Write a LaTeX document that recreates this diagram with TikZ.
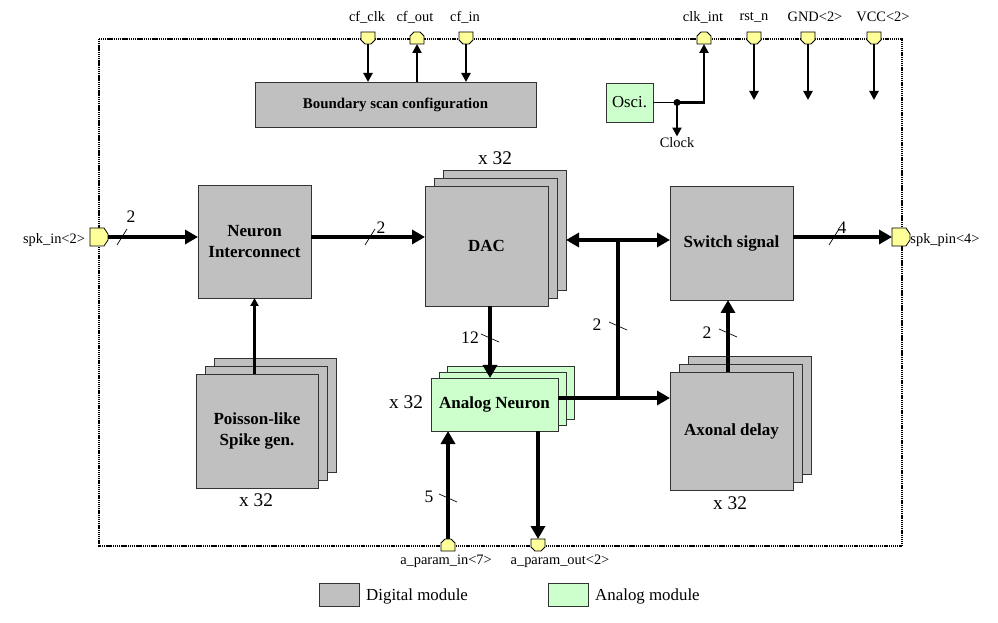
\documentclass[tikz,border=0pt]{standalone}
\usepackage{fontspec}
\setmainfont{Liberation Serif}
\usetikzlibrary{arrows.meta,calc}
\definecolor{dig}{HTML}{C0C0C0}
\definecolor{ana}{HTML}{CCFFCC}
\definecolor{pinc}{HTML}{FFFF99}
\newcommand\smallf{\fontsize{12.3}{14}\selectfont}
\newcommand\boxf{\bfseries\fontsize{14.5}{17.5}\selectfont}
\newcommand\bsf{\bfseries\fontsize{12.7}{15}\selectfont}
\newcommand\oscf{\fontsize{14.3}{17}\selectfont}
\newcommand\bigf{\fontsize{16.5}{19}\selectfont}
\newcommand\busf{\fontsize{15}{18}\selectfont}
\newcommand\legf{\fontsize{14.4}{17}\selectfont}
\newcommand\mybox[7]{\node[box,#6,minimum width={(#4-#2)*0.03cm},minimum height={(#5-#3)*0.03cm}] (#1) at ({(#2+#4)/2},{(#3+#5)/2}) {#7};}
\newcommand\stackbg[7]{%
  \draw[boxline,fill=#7] ({#1+2*#5},{#2+2*#6}) rectangle ({#3+2*#5},{#4+2*#6});
  \draw[boxline,fill=#7] ({#1+#5},{#2+#6}) rectangle ({#3+#5},{#4+#6});}
\newcommand\pinedges[3]{%
  \coordinate (#1) at (#2,#3);
  \coordinate (#1-t) at (#2,{#3-6});
  \coordinate (#1-b) at (#2,{#3+6});}
\newcommand\pinD[3]{\pinedges{#1}{#2}{#3}%
  \draw[pinst] ({#2-7},{#3-6}) -- ({#2+7},{#3-6}) -- ({#2+7},{#3+2}) -- ({#2+3},{#3+6}) -- ({#2-3},{#3+6}) -- ({#2-7},{#3+2}) -- cycle;}
\newcommand\pinU[3]{\pinedges{#1}{#2}{#3}%
  \draw[pinst] ({#2-7},{#3+6}) -- ({#2+7},{#3+6}) -- ({#2+7},{#3-2}) -- ({#2+3},{#3-6}) -- ({#2-3},{#3-6}) -- ({#2-7},{#3-2}) -- cycle;}
\newcommand\pinR[3]{%
  \coordinate (#1) at (#2,#3);
  \coordinate (#1-l) at ({#2-9},#3);
  \coordinate (#1-r) at ({#2+9},#3);
  \draw[pinst] ({#2-9},{#3-9}) -- ({#2+5},{#3-9}) -- ({#2+9},{#3-3}) -- ({#2+9},{#3+3}) -- ({#2+5},{#3+9}) -- ({#2-9},{#3+9}) -- cycle;}
\begin{document}
\begin{tikzpicture}[x=0.03cm,y=-0.03cm,
  boxline/.style={draw=black!80,line width=0.7pt},
  box/.style={boxline,inner sep=0pt,outer sep=0pt,align=center,font=\boxf},
  thk/.style={line width=4.2pt,-{Triangle[length=0.39cm,width=0.42cm]}},
  thkb/.style={line width=4.2pt,{Triangle[length=0.39cm,width=0.42cm]}-{Triangle[length=0.39cm,width=0.42cm]}},
  thn/.style={line width=2pt,-{Triangle[length=0.27cm,width=0.27cm]}},
  thn2/.style={line width=1.8pt,-{Triangle[length=0.24cm,width=0.24cm]}},
  slashl/.style={line width=0.6pt},
  pinst/.style={draw=black,line width=0.7pt,fill=pinc},
  frameline/.style={line width=1.2pt,dash pattern=on 1pt off 0.6pt},
  lbl/.style={font=\smallf,inner sep=1pt},
  bus/.style={font=\busf,inner sep=0pt},
  mult/.style={font=\bigf,inner sep=0pt}]
\useasboundingbox (0,0) rectangle (998,623);
\draw[frameline] (99,39) rectangle (902,546);

% modules
\mybox{BS}{255}{82}{536}{127}{fill=dig,font=\bsf}{Boundary scan configuration}
\mybox{OSC}{606}{83}{653}{122}{fill=ana,font=\oscf}{Osci.}
\mybox{NI}{198}{185}{311}{298}{fill=dig}{Neuron\\Interconnect}
\stackbg{425}{186}{548}{306}{9}{-8}{dig}
\mybox{DAC}{425}{186}{548}{306}{fill=dig}{DAC}
\mybox{SW}{670}{186}{793}{300}{fill=dig}{Switch signal}
\stackbg{196}{374}{318}{488}{9}{-8}{dig}
\mybox{PS}{196}{374}{318}{488}{fill=dig}{Poisson-like\\Spike gen.}
\stackbg{431}{378}{558}{431}{8}{-6}{ana}
\mybox{AN}{431}{378}{558}{431}{fill=ana}{Analog Neuron}
\stackbg{670}{372}{793}{490}{9}{-8}{dig}
\mybox{AX}{670}{372}{793}{490}{fill=dig}{Axonal delay}

% pins
\pinD{cfclk}{368}{38}
\pinU{cfout}{417}{38}
\pinD{cfin}{466}{38}
\pinU{clkint}{704}{38}
\pinD{rstn}{754}{38}
\pinD{gnd}{808}{38}
\pinD{vcc}{874}{38}
\pinU{apin}{448}{545}
\pinD{apout}{538}{545}
\pinR{spkin}{99}{237}
\pinR{spkpin}{901}{237}

% pin labels
\node[lbl] (lcfclk) at (367,17) {cf\_clk};
\node[lbl] (lcfout) at (415,17) {cf\_out};
\node[lbl] (lcfin) at (465,17) {cf\_in};
\node[lbl] (lclkint) at (703,17) {clk\_int};
\node[lbl] (lrstn) at (754,17) {rst\_n};
\node[lbl] (lgnd) at (815,17) {GND<2>};
\node[lbl] (lvcc) at (883,17) {VCC<2>};
\node[lbl] (lspkin) at (54,240) {spk\_in<2>};
\node[lbl] (lspkpin) at (945,240) {spk\_pin<4>};
\node[lbl] (lapin) at (446,561) {a\_param\_in<7>};
\node[lbl] (lapout) at (560,561) {a\_param\_out<2>};

% top connectors
\draw[thn] (cfclk-b) -- (cfclk |- BS.north);
\draw[thn] (cfout |- BS.north) -- (cfout-b);
\draw[thn] (cfin-b) -- (cfin |- BS.north);
\coordinate (rstE) at (754,100);
\coordinate (gndE) at (808,100);
\coordinate (vccE) at (874,100);
\draw[thn] (rstn-b) -- (rstE);
\draw[thn] (gnd-b) -- (gndE);
\draw[thn] (vcc-b) -- (vccE);

% oscillator
\coordinate (jn) at ($(OSC.east)+(24,0)$);
\node[lbl] (clock) at (677,143) {Clock};
\draw[line width=1pt] (OSC.east) -- (jn);
\draw[thn] (jn) -| (clkint-b);
\draw[thn] (jn) -- (clock.north);
\fill (jn) circle (3pt);

% main data path
\draw[thk] (spkin-r) -- (spkin -| NI.west);
\draw[thk] (NI.east |- spkin) -- (DAC.west |- spkin);
\coordinate (dacR) at (566,240);
\draw[thkb] (dacR) -- (dacR -| SW.west);
\coordinate (jbus) at (618,240);
\coordinate (anout) at (558,398);
\draw[line width=4.2pt] (jbus) -- (jbus |- anout);
\draw[thk] (anout) -- (anout -| AX.west);
\draw[thk] (SW.east |- spkpin) -- (spkpin-l);
\draw[thk] ($(DAC.south)+(3.5,0)$) coordinate (d1) -- (d1 |- AN.north);
\draw[thk] ($(AX.north)+(-3.5,0)$) coordinate (a1) -- (a1 |- SW.south);
\draw[thn2] (PS.north -| NI.south) -- (NI.south);
\draw[thk] (apin-t) -- (apin |- AN.south);
\draw[thk] (apout |- AN.south) -- (apout-t);

% bus widths
\draw[slashl] (117,245) -- (127,229);
\node[bus] (b1) at (131,217) {2};
\draw[slashl] (365,245) -- (375,229);
\node[bus] (b2) at (381,228) {2};
\draw[slashl] (829,245) -- (839,229);
\node[bus] (b3) at (842,228) {4};
\draw[slashl] (609,322) -- (627,330);
\node[bus] (b4) at (597,325) {2};
\draw[slashl] (481,334) -- (499,342);
\node[bus] (b5) at (470,338) {12};
\draw[slashl] (719,329) -- (737,337);
\node[bus] (b6) at (707,333) {2};
\draw[slashl] (439,494) -- (457,502);
\node[bus] (b7) at (429,497) {5};

% multiplicity
\node[mult] (m1) at (495,158) {x 32};
\node[mult] (m2) at (256,500) {x 32};
\node[mult] (m3) at (730,503) {x 32};
\node[mult] (m4) at (406,402) {x 32};

% legend
\node[boxline,fill=dig,minimum width=1.2cm,minimum height=0.69cm,inner sep=0pt] (lg1) at (339,595) {};
\node[anchor=west,font=\legf,inner sep=0pt] (lg1t) at (366,596) {Digital module};
\node[boxline,fill=ana,minimum width=1.2cm,minimum height=0.69cm,inner sep=0pt] (lg2) at (568,595) {};
\node[anchor=west,font=\legf,inner sep=0pt] (lg2t) at (595,596) {Analog module};
\end{tikzpicture}
\end{document}
